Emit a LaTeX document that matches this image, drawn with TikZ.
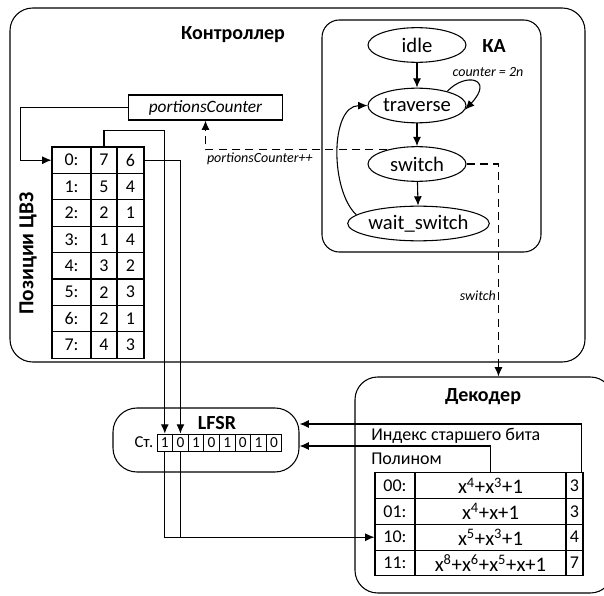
\documentclass[tikz,border=0pt]{standalone}
\usepackage{fontspec}
\setmainfont{Carlito}
\usetikzlibrary{arrows.meta, positioning, shapes.geometric, calc}

\begin{document}
\begin{tikzpicture}[
    x=0.75pt, y=-0.75pt,
    frame/.style={rectangle, draw=black, line width=0.8pt, inner sep=0pt},
    title/.style={font=\fontsize{15}{18}\selectfont\bfseries, inner sep=0pt},
    state/.style={ellipse, draw=black, line width=0.8pt, inner sep=0pt, minimum width=73.5pt, minimum height=26pt, font=\fontsize{15.5}{18}\selectfont},
    cell/.style={rectangle, draw=black, line width=0.8pt, inner sep=0pt, minimum height=19.8pt, font=\fontsize{13.5}{16}\selectfont},
    bit/.style={rectangle, draw=black, line width=0.6pt, inner sep=0pt, minimum width=11.7pt, minimum height=12.75pt, font=\fontsize{11.5}{13}\selectfont},
    lab/.style={font=\fontsize{10.5}{12}\selectfont\itshape, inner sep=1.5pt},
    txt/.style={font=\fontsize{13.5}{16}\selectfont, inner sep=0pt, anchor=west},
    line/.style={draw=black, line width=0.8pt, -{Latex[length=7pt, width=6pt]}},
    dline/.style={line, dash pattern=on 6pt off 4pt}
]
    \clip (0,0) rectangle (604,596);

    % Controller
    \node[frame, rounded corners=17pt, minimum width=431.25pt, minimum height=265.5pt] (ctrl) at (297.5,185) {};
    \node[title] (ctrltitle) at (233,35) {Контроллер};

    % State machine
    \node[frame, rounded corners=13pt, minimum width=164.25pt, minimum height=174pt] (ka) at (431.5,136) {};
    \node[title] (katitle) at (494,46) {КА};
    \node[state] (idle) at (417,45) {idle};
    \node[state] (traverse) at (417,105.5) {traverse};
    \node[state] (switch) at (417,164) {switch};
    \node[state, minimum width=98pt] (wait) at (418.5,223.5) {wait\_switch};

    \draw[line] (idle) -- (traverse);
    \draw[line] (traverse) -- (switch);
    \draw[line] (switch) -- (wait);
    \draw[line] (traverse.25) .. controls (465,72) and (495,78) .. (traverse.-5);
    \node[lab] (cntlab) at (488,72) {counter = 2n};
    \draw[line] (wait.172) .. controls (330,190) and (330,106) .. (traverse.west);

    % Counter and positions table
    \node[frame, minimum width=116pt, minimum height=18.75pt, font=\fontsize{13}{15}\selectfont\itshape] (pc) at (205.5,107.5) {portionsCounter};
    \foreach \p/\q [count=\i from 0] in {7/6, 5/4, 2/1, 1/4, 3/2, 2/3, 2/1, 4/3} {
        \node[cell, minimum width=29.25pt] (za\i) at (71.5,{160.2+26.4*\i}) {\i:};
        \node[cell, minimum width=19.5pt] (zb\i) at (104,{160.2+26.4*\i}) {\p};
        \node[cell, minimum width=20.25pt] (zc\i) at (130.5,{160.2+26.4*\i}) {\q};
    }
    \node[title, rotate=90, font=\fontsize{16}{18}\selectfont\bfseries] (postitle) at (28,253.5) {Позиции ЦВЗ};

    % LFSR
    \node[frame, rounded corners=18pt, minimum width=139.5pt, minimum height=48pt] (lfsr) at (206,440) {};
    \node[title] (lfsrtitle) at (217,423) {LFSR};
    \node[inner sep=0pt, font=\fontsize{12.5}{14}\selectfont] (st) at (144,442) {Ст.};
    \foreach \b [count=\i from 0] in {1,0,1,0,1,0,1,0}
        \node[bit] (bit\i) at ({164.8+15.6*\i},442.5) {\b};

    % Decoder
    \node[frame, rounded corners=17pt, minimum width=193.5pt, minimum height=162pt] (dec) at (484,485) {};
    \node[title] (dectitle) at (483,397) {Декодер};
    \node[txt] (idxtxt) at (371,436) {Индекс старшего бита};
    \node[txt] (poltxt) at (371,459) {Полином};
    \foreach \k/\pl/\hb [count=\i from 0] in {00/{x\textsuperscript{4}+x\textsuperscript{3}+1}/3, 01/{x\textsuperscript{4}+x+1}/3, 10/{x\textsuperscript{5}+x\textsuperscript{3}+1}/4, 11/{x\textsuperscript{8}+x\textsuperscript{6}+x\textsuperscript{5}+x+1}/7} {
        \node[cell, minimum width=30pt, minimum height=19.3pt] (da\i) at (395,{485.8+25.7*\i}) {\k:};
        \node[cell, minimum width=113.25pt, minimum height=19.3pt, font=\fontsize{15.5}{17}\selectfont] (db\i) at (490.5,{485.8+25.7*\i}) {\pl};
        \node[cell, minimum width=12.75pt, minimum height=19.3pt] (dc\i) at (574.5,{485.8+25.7*\i}) {\hb};
    }

    % Connectors
    \draw[dline] (switch.155) -| (pc.south) node[pos=0.35, below, lab] {portionsCounter++};
    \draw[dline] (switch.east) -| ($(dec.north west)+(144,0)$) node[pos=0.81, left, lab] {switch};
    \draw[line] (pc.west) -- ++(-107,0) |- (za0.west);
    \draw[line] (zb0.north) -- ++(0,-16) -| (bit0.north);
    \draw[line] (zc0.east) -| (bit1.north);
    \draw[line] (bit0.south) |- (da2.west);
    \draw[line width=0.8pt] (bit1.south) -- (bit1.south |- da2.west);
    \draw[line] ([xshift=-1.5pt]dc0.north east) |- ($(lfsr.east)+(0,-16)$);
    \draw[line] (db0.north) |- ($(lfsr.east)+(0,6)$);
\end{tikzpicture}
\end{document}
